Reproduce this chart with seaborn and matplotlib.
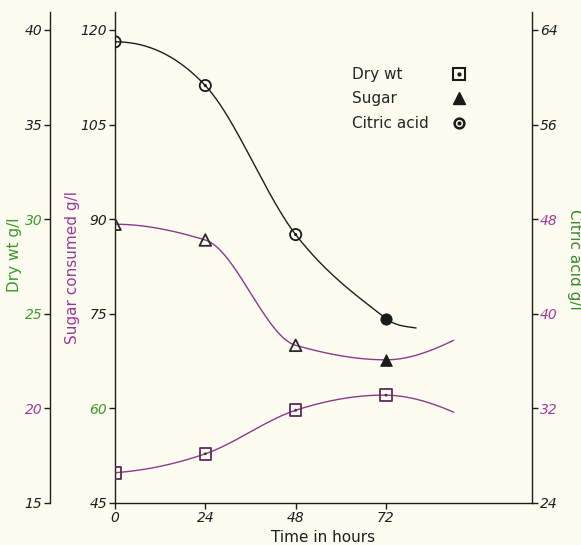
import numpy as np
import matplotlib
matplotlib.use("Agg")
import matplotlib.pyplot as plt
from matplotlib.lines import Line2D
import seaborn as sns

# values
hours = [0, 24, 48, 72]
dry_wt = [16.6, 17.6, 19.9, 20.7]      # g/l
sugar = [89.2, 86.7, 70.0, 67.7]       # g/l consumed
citric = [63.0, 59.3, 46.7, 39.6]      # g/l

# the hand drawn curves run on a bit past the last sample
dry_end = [90, 19.8]
sugar_end = [90, 70.8]
citric_end = [80, 38.8]

dry_ticks = [15, 20, 25, 30, 35, 40]
sugar_ticks = [45, 60, 75, 90, 105, 120]
citric_ticks = [24, 32, 40, 48, 56, 64]
hour_ticks = [0, 24, 48, 72]

# colour fringes of the scanned print
MAG = "#a8389f"
GRN = "#3a9a2a"
INK = "#1e1e1e"
dry_tick_colors = [INK, MAG, GRN, GRN, INK, INK]
sugar_tick_colors = [INK, GRN, INK, INK, INK, INK]
citric_tick_colors = [INK, MAG, MAG, MAG, INK, INK]

BG = "#fcfcf1"


def end_slope(h0, h1, d0, d1):
    m = ((2 * h0 + h1) * d0 - h0 * d1) / (h0 + h1)
    if np.sign(m) != np.sign(d0):
        return 0.0
    if np.sign(d0) != np.sign(d1) and abs(m) > abs(3 * d0):
        return 3 * d0
    return m


def smooth_curve(x, y, monotone=False, n=300):
    """cubic hermite through the points (like a french curve)"""
    x = np.asarray(x, float)
    y = np.asarray(y, float)
    h = np.diff(x)
    d = np.diff(y) / h
    m = np.zeros_like(y)
    for k in range(1, len(x) - 1):
        if monotone:
            if d[k - 1] * d[k] > 0:
                w1 = 2 * h[k] + h[k - 1]
                w2 = h[k] + 2 * h[k - 1]
                m[k] = (w1 + w2) / (w1 / d[k - 1] + w2 / d[k])
        else:
            m[k] = (y[k + 1] - y[k - 1]) / (x[k + 1] - x[k - 1])
    m[0] = end_slope(h[0], h[1], d[0], d[1])
    m[-1] = end_slope(h[-1], h[-2], d[-1], d[-2])
    xs = np.linspace(x[0], x[-1], n)
    i = np.clip(np.searchsorted(x, xs) - 1, 0, len(h) - 1)
    t = (xs - x[i]) / h[i]
    ys = ((2 * t**3 - 3 * t**2 + 1) * y[i] + (t**3 - 2 * t**2 + t) * h[i] * m[i]
          + (-2 * t**3 + 3 * t**2) * y[i + 1] + (t**3 - t**2) * h[i] * m[i + 1])
    return xs, ys


sns.set_style("ticks")
plt.rcParams["font.family"] = ["DejaVu Sans"]
plt.rcParams["axes.linewidth"] = 1.0

fig = plt.figure(figsize=(5.81, 5.45), dpi=100, facecolor=BG)
ax = fig.add_axes([115 / 581, 1 - 503 / 545, 417 / 581, 491 / 545])
ax.set_facecolor(BG)
ax_dry = ax.twinx()
ax_cit = ax.twinx()

# curves
for a, vals, end, col, mono in [(ax_dry, dry_wt, dry_end, "#8e3a8a", False),
                                (ax, sugar, sugar_end, "#8e3a8a", True),
                                (ax_cit, citric, citric_end, INK, False)]:
    xs, ys = smooth_curve(hours + [end[0]], vals + [end[1]], monotone=mono)
    sns.lineplot(x=xs, y=ys, ax=a, color=col, lw=1.0, sort=False)

# markers
sns.scatterplot(x=hours, y=dry_wt, ax=ax_dry, marker="s", s=70,
                facecolor="none", edgecolor="#5e2a5e", linewidth=1.3, zorder=5)
sns.scatterplot(x=hours, y=dry_wt, ax=ax_dry, marker="o", s=4,
                color="#333333", edgecolor="none", zorder=6)

sns.scatterplot(x=hours[:3], y=sugar[:3], ax=ax, marker="^", s=70,
                facecolor="none", edgecolor="#2a2a2a", linewidth=1.3, zorder=5)
sns.scatterplot(x=hours[3:], y=sugar[3:], ax=ax, marker="^", s=70,
                color="#1a1a1a", edgecolor="#1a1a1a", zorder=5)

sns.scatterplot(x=hours[:3], y=citric[:3], ax=ax_cit, marker="o", s=65,
                facecolor="none", edgecolor="#1a1a1a", linewidth=1.3, zorder=5)
sns.scatterplot(x=hours[:3], y=citric[:3], ax=ax_cit, marker="o", s=5,
                color="#1a1a1a", edgecolor="none", zorder=6)
sns.scatterplot(x=hours[3:], y=citric[3:], ax=ax_cit, marker="o", s=65,
                color="#1a1a1a", edgecolor="#1a1a1a", zorder=5)

# axis ranges (spines run a little above the top tick)
ax.set_xlim(0, 110.8)
ax.set_ylim(45, 122.85)
ax_dry.set_ylim(15, 40.95)
ax_cit.set_ylim(24, 65.52)

ax.set_xticks(hour_ticks)
ax.set_xticklabels([str(h) for h in hour_ticks])
ax.set_yticks(sugar_ticks)
ax.set_yticklabels([str(v) for v in sugar_ticks])

ax_dry.yaxis.tick_left()
ax_dry.yaxis.set_label_position("left")
ax_dry.set_yticks(dry_ticks)
ax_dry.set_yticklabels([str(v) for v in dry_ticks])

ax_cit.set_yticks(citric_ticks)
ax_cit.set_yticklabels([str(v) for v in citric_ticks])

for s in ["top", "right"]:
    ax.spines[s].set_visible(False)
for s in ["top", "right", "bottom"]:
    ax_dry.spines[s].set_visible(False)
ax_dry.spines["left"].set_visible(True)
ax_dry.spines["left"].set_position(("outward", 65 * 0.72))
for s in ["top", "left", "bottom"]:
    ax_cit.spines[s].set_visible(False)
for a in (ax, ax_dry, ax_cit):
    for sp in a.spines.values():
        sp.set_color(INK)
    a.tick_params(length=4, width=1.0, pad=1.5, colors=INK, labelsize=10)

for lab in ax.get_xticklabels():
    lab.set_fontstyle("italic")
for labs, cols in [(ax.get_yticklabels(), sugar_tick_colors),
                   (ax_dry.get_yticklabels(), dry_tick_colors),
                   (ax_cit.get_yticklabels(), citric_tick_colors)]:
    for lab, c in zip(labs, cols):
        lab.set_color(c)
        lab.set_fontstyle("italic")

# axis titles
ax.set_xlabel("Time in hours", fontsize=11, color=INK)
ax.xaxis.set_label_coords(0.5, -0.055)
ax.set_ylabel("Sugar consumed g/l", fontsize=11, color="#9a3a9a")
ax.yaxis.set_label_coords(-0.085, 0.48)
ax_dry.set_ylabel("Dry wt g/l", fontsize=11, color="#3a9a2a")
ax_dry.yaxis.set_label_coords(-0.224, 0.505)
ax_cit.set_ylabel("Citric acid g/l", fontsize=11, color="#3a8a2a", rotation=270,
                  va="bottom")
ax_cit.yaxis.set_label_coords(1.084, 0.497)

# key: text column on the left, symbol column on the right
names = ["Dry wt", "Sugar", "Citric acid"]
keys = [
    (Line2D([], [], ls="none", marker="s", ms=8, mfc="none", mec="#1a1a1a", mew=1.5),
     Line2D([], [], ls="none", marker="o", ms=2, color="#1a1a1a")),
    Line2D([], [], ls="none", marker="^", ms=8, color="#1a1a1a"),
    (Line2D([], [], ls="none", marker="o", ms=7, mfc="none", mec="#1a1a1a", mew=1.8),
     Line2D([], [], ls="none", marker="o", ms=2, color="#1a1a1a")),
]
blank = [Line2D([], [], ls="none") for _ in names]
leg_txt = ax.legend(blank, names, loc="upper left", bbox_to_anchor=(0.568, 0.888),
                    frameon=False, handlelength=0, handletextpad=0, borderpad=0,
                    borderaxespad=0, labelspacing=0.62, fontsize=11)
ax.add_artist(leg_txt)
leg_sym = ax.legend(keys, names, loc="upper right", bbox_to_anchor=(0.844, 0.888),
                    frameon=False, handlelength=1, handletextpad=0.5, borderpad=0,
                    borderaxespad=0, labelspacing=0.62, fontsize=11, markerfirst=False)
for t in leg_sym.get_texts():
    t.set_alpha(0)

fig.savefig("out.png", dpi=100, facecolor=BG)
